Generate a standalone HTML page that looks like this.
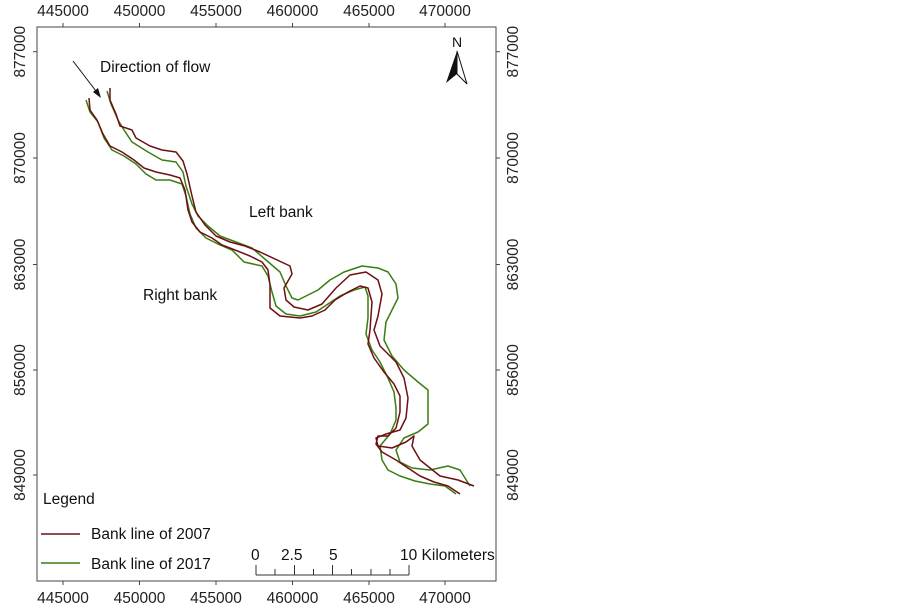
<!DOCTYPE html>
<html><head><meta charset="utf-8"><style>
body{margin:0;background:#fff;}
svg{display:block;font-family:"Liberation Sans",Arial,sans-serif;}
</style></head><body>
<svg width="903" height="610" viewBox="0 0 903 610" xmlns="http://www.w3.org/2000/svg">
<rect x="37" y="27" width="459" height="554" fill="none" stroke="#444" stroke-width="1"/>
<g stroke="#444" stroke-width="1">
<line x1="63" y1="27" x2="63" y2="23"/><line x1="139.5" y1="27" x2="139.5" y2="23"/><line x1="216" y1="27" x2="216" y2="23"/><line x1="292.5" y1="27" x2="292.5" y2="23"/><line x1="369" y1="27" x2="369" y2="23"/><line x1="445" y1="27" x2="445" y2="23"/>
<line x1="63" y1="581" x2="63" y2="585"/><line x1="139.5" y1="581" x2="139.5" y2="585"/><line x1="216" y1="581" x2="216" y2="585"/><line x1="292.5" y1="581" x2="292.5" y2="585"/><line x1="369" y1="581" x2="369" y2="585"/><line x1="445" y1="581" x2="445" y2="585"/>
<line x1="33" y1="51.7" x2="37" y2="51.7"/><line x1="33" y1="158" x2="37" y2="158"/><line x1="33" y1="264.5" x2="37" y2="264.5"/><line x1="33" y1="370" x2="37" y2="370"/><line x1="33" y1="475" x2="37" y2="475"/>
<line x1="496" y1="51.7" x2="500" y2="51.7"/><line x1="496" y1="158" x2="500" y2="158"/><line x1="496" y1="264.5" x2="500" y2="264.5"/><line x1="496" y1="370" x2="500" y2="370"/><line x1="496" y1="475" x2="500" y2="475"/>
</g>
<g font-size="15.5" fill="#222" text-anchor="middle">
<text x="63" y="16">445000</text><text x="139.5" y="16">450000</text><text x="216" y="16">455000</text><text x="292.5" y="16">460000</text><text x="369" y="16">465000</text><text x="445" y="16">470000</text>
<text x="63" y="603">445000</text><text x="139.5" y="603">450000</text><text x="216" y="603">455000</text><text x="292.5" y="603">460000</text><text x="369" y="603">465000</text><text x="445" y="603">470000</text>
<text transform="translate(25,51.7) rotate(-90)">877000</text><text transform="translate(25,158) rotate(-90)">870000</text><text transform="translate(25,264.5) rotate(-90)">863000</text><text transform="translate(25,370) rotate(-90)">856000</text><text transform="translate(25,475) rotate(-90)">849000</text>
<text transform="translate(518,51.7) rotate(-90)">877000</text><text transform="translate(518,158) rotate(-90)">870000</text><text transform="translate(518,264.5) rotate(-90)">863000</text><text transform="translate(518,370) rotate(-90)">856000</text><text transform="translate(518,475) rotate(-90)">849000</text>
</g>
<g fill="none" stroke-width="1.5" stroke-linejoin="round">
<polyline stroke="#3a7d12" points="86,100 90,112 98,122 104,138 112,150 124,156 136,164 146,174 156,180 170,180 182,184 186,196 190,214 196,228 206,238 218,244 232,250 244,262 262,266 268,276 272,292 276,306 286,314 300,316 316,312 328,304 340,296 354,290 365,287 368,296 368,318 366,334 372,350 380,362 388,378 394,392 396,408 396,420 390,434 380,446 382,460 388,470 400,476 415,481 430,484 445,486 456,494"/>
<polyline stroke="#3a7d12" points="107,91 111,104 118,120 124,130 132,142 148,152 162,160 176,162 183,172 186,186 192,204 198,216 208,226 220,236 236,242 252,248 266,260 280,272 286,286 292,298 298,300 306,296 318,290 330,280 344,272 362,266 378,268 388,272 396,284 398,298 392,310 386,322 384,340 392,356 404,370 418,382 428,390 428,406 428,424 418,432 404,438 396,450 400,462 412,468 430,470 448,466 460,470 470,486"/>
<polyline stroke="#6e0f12" points="89,98 90,110 97,120 103,134 110,146 122,152 134,160 144,168 156,172 170,175 180,178 185,190 188,210 192,222 200,232 212,238 222,245 235,250 250,256 262,262 268,270 270,285 270,308 280,316 300,318 312,316 325,310 335,300 348,292 360,286 368,288 372,302 370,330 368,344 374,358 384,372 394,384 400,396 400,412 396,428 388,436 378,436 376,444 382,452 396,460 408,468 420,476 434,482 448,486 460,494"/>
<polyline stroke="#6e0f12" points="110,88 110,100 116,114 120,126 132,130 136,138 150,146 162,150 176,152 183,161 187,174 192,196 196,212 205,225 216,236 230,242 245,246 260,252 290,266 292,274 284,288 286,300 294,307 308,310 322,304 336,288 350,275 366,272 378,280 382,294 378,316 374,330 380,346 396,362 404,378 408,398 406,418 400,430 386,434 376,438 378,446 392,448 406,442 414,436 412,446 420,460 440,476 458,480 474,486"/>
</g>
<line x1="73" y1="61" x2="99" y2="95" stroke="#111" stroke-width="1"/>
<polygon points="101,98 93,92 98,88" fill="#111"/>
<g font-size="15.5" fill="#111">
<text x="100" y="72">Direction of flow</text>
<text x="249" y="217">Left bank</text>
<text x="143" y="300">Right bank</text>
<text x="43" y="504">Legend</text>
<text x="91" y="539">Bank line of 2007</text>
<text x="91" y="569">Bank line of 2017</text>
<text x="251" y="560">0</text><text x="281" y="560">2.5</text><text x="329" y="560">5</text><text x="400" y="560">10 Kilometers</text>
</g>
<line x1="41" y1="534" x2="80" y2="534" stroke="#6e0f12" stroke-width="1.5"/>
<line x1="41" y1="563" x2="80" y2="563" stroke="#3a7d12" stroke-width="1.5"/>
<g stroke="#333" stroke-width="1" fill="none">
<line x1="256" y1="575" x2="409" y2="575"/>
<line x1="256" y1="565" x2="256" y2="575"/><line x1="275" y1="569" x2="275" y2="575"/><line x1="294.5" y1="565" x2="294.5" y2="575"/><line x1="313.5" y1="569" x2="313.5" y2="575"/><line x1="332.5" y1="565" x2="332.5" y2="575"/><line x1="351.5" y1="569" x2="351.5" y2="575"/><line x1="371" y1="569" x2="371" y2="575"/><line x1="390" y1="569" x2="390" y2="575"/><line x1="409" y1="565" x2="409" y2="575"/>
</g>
<text x="457" y="47" font-size="14" text-anchor="middle" fill="#111">N</text>
<polygon points="457,51 446,83 457,74" fill="#111"/>
<polygon points="457,51 467,84 457,74" fill="#fff" stroke="#111" stroke-width="1"/>
</svg>
</body></html>
